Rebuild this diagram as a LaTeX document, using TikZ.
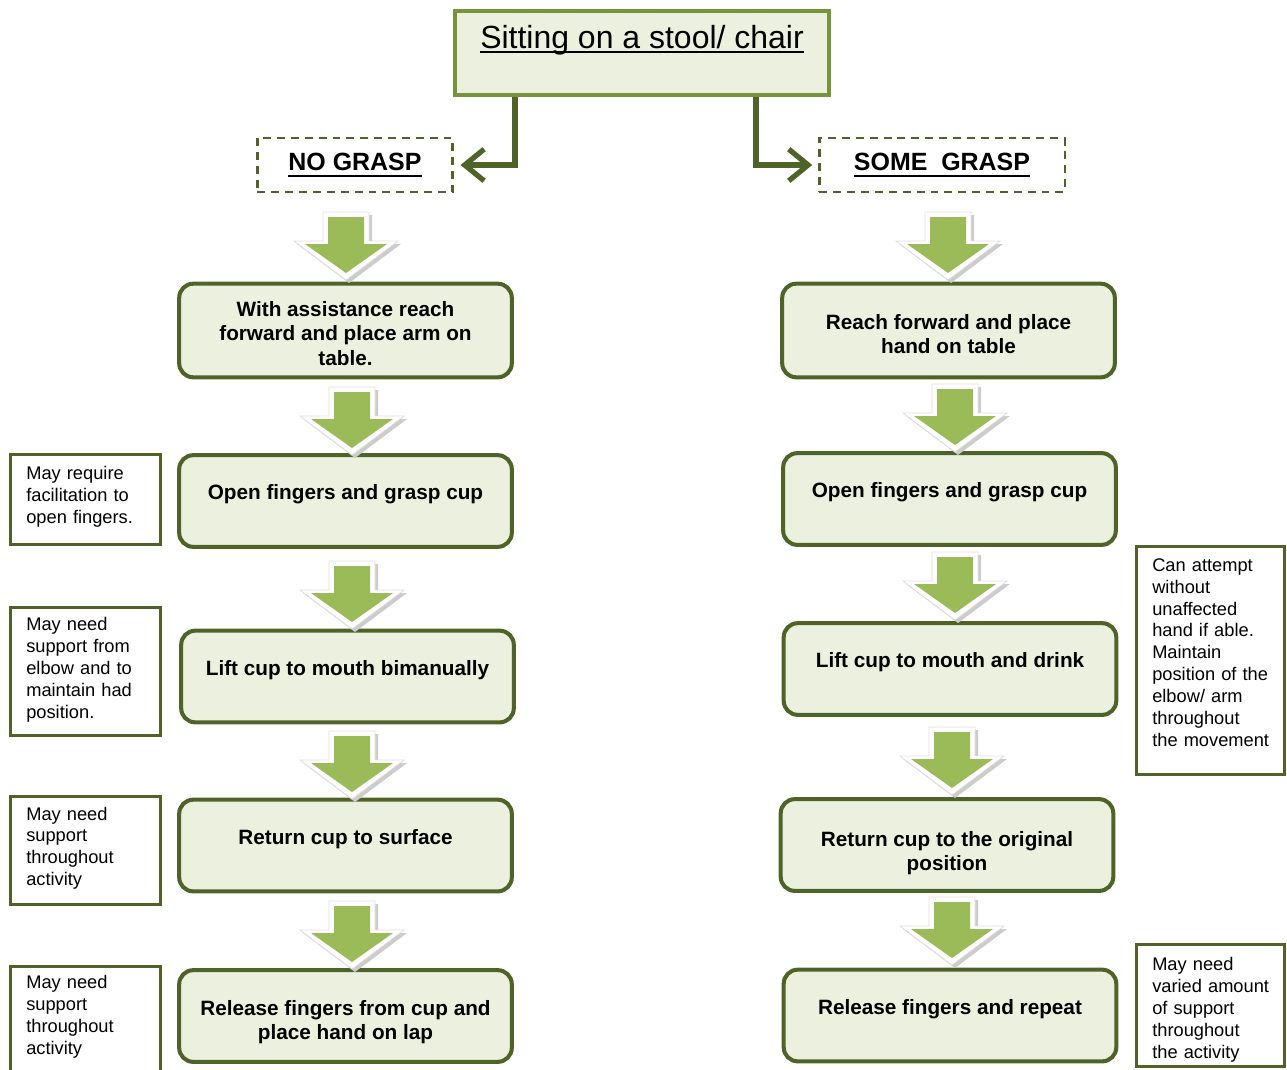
\documentclass[tikz,border=0pt]{standalone}
\usepackage{fontspec}
\setmainfont{Liberation Sans}
\usetikzlibrary{arrows.meta}

\definecolor{paleolive}{HTML}{EBF1DE}
\definecolor{darkolive}{HTML}{4F6228}
\definecolor{midolive}{HTML}{77933C}
\definecolor{leafgreen}{HTML}{9BBB59}

% text with a heavier underline set just below the baseline
\newcommand{\thickul}[2][-3.2pt]{\leavevmode\setbox0=\hbox{#2}\rlap{\copy0}\rule[#1]{\wd0}{1.1pt}}
% lines of a note, indented and nudged vertically by #1
\newcommand{\notelines}[2]{\hspace*{3.8pt}\raisebox{#1}[\height][\depth]{\begin{tabular}{@{}l@{}}#2\end{tabular}}}
% centred lines of a step, nudged vertically by #1
\newcommand{\steplines}[2]{\raisebox{#1}[\height][\depth]{\begin{tabular}{@{}c@{}}#2\end{tabular}}}

% green block arrow with white rim and soft shadow; #1 = centre x, #2 = top y
\newcommand{\flowarrow}[2]{%
  \begin{scope}[shift={(#1,#2)}]
    \fill[gray!40] (-20,3) -- (26,3) -- (26,32) -- (55,32) -- (3,71) -- (-49,32) -- (-20,32) -- cycle;
    \filldraw[fill=white, draw=gray!25, line width=0.4pt] (-23,0) -- (23,0) -- (23,29) -- (52,29) -- (0,68) -- (-52,29) -- (-23,29) -- cycle;
    \fill[leafgreen] (-18,5) -- (18,5) -- (18,32) -- (41,32) -- (0,61) -- (-41,32) -- (-18,32) -- cycle;
  \end{scope}}

\tikzset{
  stepbox/.style={draw=darkolive, line width=2.3pt, fill=paleolive, rounded corners=8pt,
    minimum width=189.3pt, minimum height=52.2pt, align=center, inner sep=2pt,
    font=\bfseries\fontsize{11.8}{14}\selectfont},
  oneline/.style={text depth=10pt},
  notebox/.style={draw=darkolive, line width=1.7pt, fill=white, align=left,
    text width=75pt, inner xsep=5pt, font=\fontsize{10.4}{12.5}\selectfont},
  choicebox/.style={draw=darkolive, line width=1.2pt, dash pattern=on 4.5pt off 3.4pt,
    minimum height=30.6pt, font=\bfseries\fontsize{14.2}{16}\selectfont},
  conn/.style={draw=darkolive, line width=3pt, line join=miter,
    -{Straight Barb[length=11pt,width=18pt]}}
}

\begin{document}
\begin{tikzpicture}[x=0.02cm, y=-0.02cm]
  \useasboundingbox (0,0) rectangle (1287,1069);
  \clip (0,0) rectangle (1287,1069);

  % heading
  \node[draw=midolive, line width=2.3pt, fill=paleolive, minimum width=213.3pt,
        minimum height=47.6pt] (topbox) at (642,53) {};
  \node[font=\fontsize{18.2}{20}\selectfont, inner sep=0, anchor=base] (title) at (642,48)
       {\thickul[-2.9pt]{Sitting on a stool/ chair}};

  % the two branches
  \node[choicebox, minimum width=111pt] (nog) at (355,165) {\thickul[-3.6pt]{NO GRASP}};
  \node[choicebox, minimum width=139.5pt] (sog) at (942,165) {\thickul[-3.6pt]{SOME~~GRASP}};

  \coordinate (lstem) at (515,0);
  \coordinate (rstem) at (756,0);
  \draw[conn, shorten >=4pt] (topbox.south -| lstem) |- (nog.east);
  \draw[conn, shorten >=3.5pt] (topbox.south -| rstem) |- (sog.west);

  % no grasp steps
  \node[stepbox, minimum height=53.3pt] (l1) at (345.5,330.5)
       {\steplines{-3pt}{With assistance reach\\forward and place arm on\\table.}};
  \node[stepbox, oneline] (l2) at (345.5,501) {Open fingers and grasp cup};
  \node[stepbox, oneline] (l3) at (347.5,676.5) {Lift cup to mouth bimanually};
  \node[stepbox, oneline] (l4) at (345.5,845.5) {Return cup to surface};
  \node[stepbox] (l5) at (345.5,1016)
       {\steplines{-3.8pt}{Release fingers from cup and\\place hand on lap}};

  % some grasp steps
  \node[stepbox, minimum height=53.3pt] (r1) at (948.5,330.5)
       {\steplines{-3.4pt}{Reach forward and place\\hand on table}};
  \node[stepbox, oneline] (r2) at (949.5,499) {Open fingers and grasp cup};
  \node[stepbox, oneline] (r3) at (950,669) {Lift cup to mouth and drink};
  \node[stepbox] (r4) at (947,845)
       {\steplines{-4.8pt}{Return cup to the original\\position}};
  \node[stepbox, oneline] (r5) at (950,1015.5) {Release fingers and repeat};

  % block arrows between steps
  \flowarrow{346}{212}
  \flowarrow{352}{387}
  \flowarrow{352}{561}
  \flowarrow{352}{731}
  \flowarrow{352}{901}
  \flowarrow{948}{212}
  \flowarrow{955}{384}
  \flowarrow{955}{552}
  \flowarrow{952}{727}
  \flowarrow{952}{897}

  % side notes, left
  \node[notebox, minimum height=51pt] (n1) at (85.5,499.5)
       {\notelines{1.3pt}{May require\\facilitation to\\open fingers.}};
  \node[notebox, minimum height=72.6pt] (n2) at (85.5,671.5)
       {\notelines{0.6pt}{May need\\support from\\elbow and to\\maintain had\\position.}};
  \node[notebox, minimum height=61.2pt] (n3) at (85.5,850.5)
       {\notelines{1.1pt}{May need\\support\\throughout\\activity}};
  \node[notebox, minimum height=61.2pt] (n4) at (85.5,1020.5)
       {\notelines{1.7pt}{May need\\support\\throughout\\activity}};

  % side notes, right
  \node[notebox, text width=73.9pt, minimum height=129.3pt] (m1) at (1210.5,660.5)
       {\notelines{3.4pt}{Can attempt\\without\\unaffected\\hand if able.\\Maintain\\position of the\\elbow/ arm\\throughout\\the movement}};
  \node[notebox, text width=73.9pt, minimum height=66.9pt] (m2) at (1210.5,1005.5)
       {\notelines{-2.8pt}{May need\\varied amount\\of support\\throughout\\the activity}};
\end{tikzpicture}
\end{document}
